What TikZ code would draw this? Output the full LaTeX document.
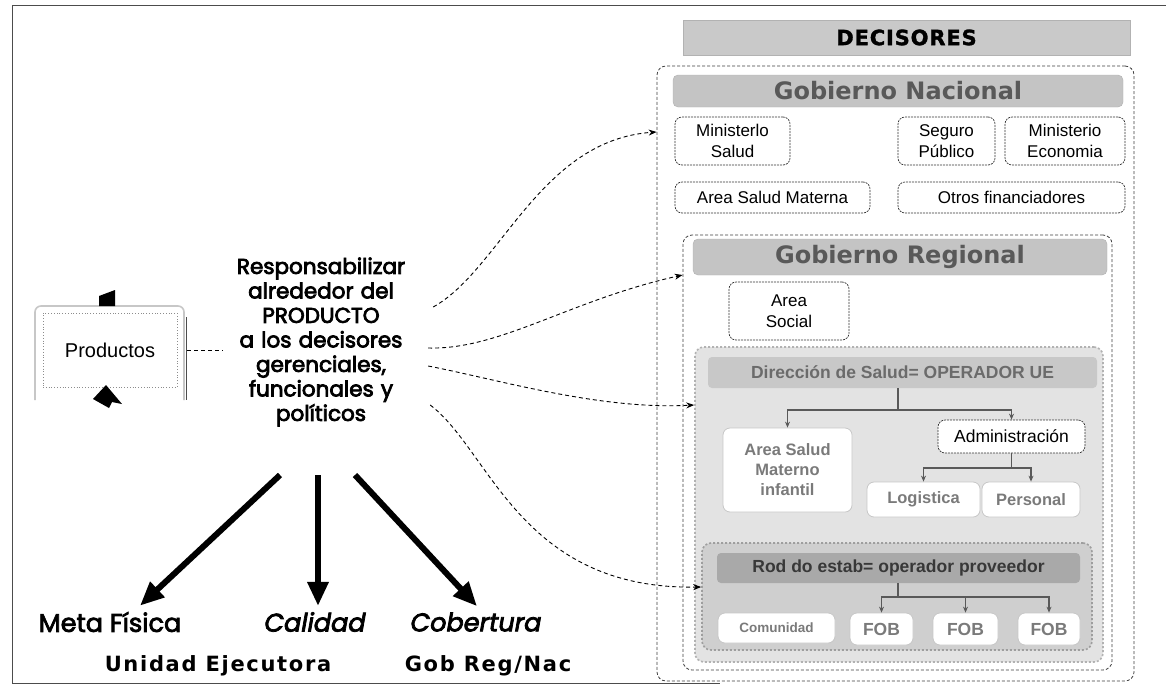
\documentclass[tikz,border=0pt]{standalone}
\usepackage{fontspec}
\setmainfont{Liberation Sans}
\newfontfamily\comic{Poppins}[FakeBold=3.5]
\newfontfamily\comicit{Poppins Italic}[FakeBold=3]
\newfontfamily\comiclb{Poppins}[FakeBold=3]
\newfontfamily\verd{DejaVu Sans}
\newfontfamily\verdsp{DejaVu Sans}[LetterSpace=8]
\newfontfamily\decfont{DejaVu Sans Bold}[LetterSpace=4, FakeBold=1.5]
\usetikzlibrary{arrows.meta,calc}
\definecolor{decg}{HTML}{C9C9C9}
\definecolor{gobg}{HTML}{C4C4C4}
\definecolor{dirfill}{HTML}{E3E3E3}
\definecolor{dirbar}{HTML}{C8C8C8}
\definecolor{redfill}{HTML}{CFCFCF}
\definecolor{redbar}{HTML}{A9A9A9}
\tikzset{
  cont/.style={draw=black!75, dash pattern=on 3pt off 2pt, line width=0.8pt, rounded corners=9pt, inner sep=0pt},
  gcont/.style={draw=black!30, dash pattern=on 2pt off 2pt, line width=1.6pt, rounded corners=9pt, inner sep=0pt},
  gobbar/.style={fill=gobg, draw=gobg!90!black, rounded corners=5pt, inner sep=0pt,
    font=\verd\bfseries\fontsize{24}{28}\selectfont, text=black!65},
  subbar/.style={rounded corners=4pt, inner sep=0pt, font=\bfseries\fontsize{17.5}{21}\selectfont},
  wbox/.style={draw=black!80, fill=white, dash pattern=on 2pt off 1pt, line width=0.7pt, rounded corners=7pt,
    align=center, inner sep=0pt, font=\fontsize{17}{21}\selectfont},
  gbox/.style={draw=black!22, fill=white, line width=0.8pt, rounded corners=7pt, align=center, inner sep=0pt,
    font=\bfseries\fontsize{16.5}{20}\selectfont, text=black!52},
  tree/.style={draw=black!65, line width=1.2pt, -{Stealth[length=6pt,width=5pt]}},
  treeline/.style={draw=black!65, line width=1.2pt},
  conn/.style={dash pattern=on 4pt off 3pt, line width=0.9pt, -{Stealth[length=8pt,width=6pt]}},
  bigarrow/.style={line width=6pt, -{Triangle[length=24pt,width=20pt]}},
  comiclab/.style={inner sep=0pt, font=\comiclb\fontsize{25.5}{30}\selectfont},
  comicitlab/.style={inner sep=0pt, font=\comicit\fontsize{25.5}{30}\selectfont},
  verdlab/.style={inner sep=0pt, font=\verdsp\bfseries\fontsize{21}{25}\selectfont}
}
\begin{document}
\begin{tikzpicture}[x=1pt,y=-1pt]
\useasboundingbox (0,0) rectangle (1166,699);
\fill[white] (0,0) rectangle (1166,699);
% frame
\draw[black!70, line width=0.8pt] (1166,5) -- (12,5) -- (12,683) -- (720,683);

% ---------- right side ----------
\node[fill=decg, draw=black!30, minimum width=447, minimum height=35, inner sep=0pt,
  font=\decfont\fontsize{21}{24}\selectfont] (dec) at (906.5,37.5) {DECISORES};

\node[cont, minimum width=477, minimum height=615] (nac) at (895.5,373.5) {};
\node[gobbar, minimum width=450, minimum height=32] (gn) at (898,91) {Gobierno Nacional};
\node[wbox, minimum width=115, minimum height=48] (ms) at (732.5,141) {Ministerlo\\Salud};
\node[wbox, minimum width=97, minimum height=48] (sp) at (946.5,141) {Seguro\\Público};
\node[wbox, minimum width=120, minimum height=48] (me) at (1065,141) {Ministerio\\Economia};
\node[wbox, minimum width=195, minimum height=31] (asm) at (772.5,197.5) {Area Salud Materna};
\node[wbox, minimum width=227, minimum height=31] (of) at (1011.5,197.5) {Otros financiadores};

\node[cont, minimum width=429, minimum height=435] (reg) at (897.5,452.5) {};
\node[gobbar, minimum width=414, minimum height=36] (gr) at (900,257) {Gobierno Regional};
\node[wbox, minimum width=120, minimum height=58] (as) at (789,311) {Area\\Social};

\node[gcont, fill=dirfill, minimum width=408, minimum height=315] (dir) at (899,504.5) {};
\node[subbar, fill=dirbar, text=black!58, minimum width=389, minimum height=31] (ds) at (902.5,372.5) {Dirección de Salud= OPERADOR UE};
\node[gbox, minimum width=129, minimum height=84] (asmi) at (787.5,470) {Area Salud\\Materno\\infantil};
\node[wbox, font=\fontsize{17.5}{21}\selectfont, minimum width=147, minimum height=33] (adm) at (1011.5,436.5) {Administración};
\node[gbox, font=\bfseries\fontsize{16.5}{20}\selectfont, minimum width=113, minimum height=35] (log) at (923.5,499.5) {Logistica};
\node[gbox, minimum width=98, minimum height=35] (per) at (1031,499.5) {Personal};

\node[gcont, draw=black!38, fill=redfill, minimum width=390, minimum height=107] (red) at (897,596.5) {};
\node[subbar, fill=redbar, text=black!78, minimum width=363, minimum height=30] (rb) at (898.5,568) {Rod do estab= operador proveedor};
\node[gbox, font=\bfseries\fontsize{13.5}{16}\selectfont, minimum width=117, minimum height=30] (com) at (776.5,628) {Comunidad};
\node[gbox, font=\bfseries\fontsize{17.5}{20}\selectfont, minimum width=63, minimum height=32] (fob1) at (881.5,629) {FOB};
\node[gbox, font=\bfseries\fontsize{17.5}{20}\selectfont, minimum width=65, minimum height=32] (fob2) at (965.5,629) {FOB};
\node[gbox, font=\bfseries\fontsize{17.5}{20}\selectfont, minimum width=62, minimum height=32] (fob3) at (1049,629) {FOB};

% tree connectors
\coordinate (j1) at (898,410);
\draw[treeline] (ds.south -| j1) -- (j1);
\draw[tree] (j1) -| (asmi.north);
\draw[tree] (j1) -| (adm.north);
\coordinate (j2) at (1011.5,468);
\draw[treeline] (adm.south) -- (j2);
\draw[tree] (j2) -| (log.north);
\draw[tree] (j2) -| (per.north);
\coordinate (j3) at (898,597);
\draw[treeline] (rb.south -| j3) -- (j3);
\draw[tree] (j3) -| (fob1.north);
\draw[tree] (j3) -| (fob2.north);
\draw[tree] (j3) -| (fob3.north);

% ---------- left side ----------
\draw[black!22, line width=1.6pt, rounded corners=6pt] (35,400) -- (35,306) -- (184,306) -- (184,400);
\draw[black!70, line width=0.8pt] (186,317) -- (186,400);
\node[draw=black!45, dotted, line width=0.8pt, minimum width=134, minimum height=74, inner sep=0pt,
  font=\fontsize{20}{24}\selectfont] (prod) at (110,350) {Productos};
\fill[black] (99,296) -- (115,290) -- (115,306) -- (99,306) -- cycle;
\fill[black] (106,385) -- (93,399) -- (109,408) -- (112,402) -- (122,404) -- cycle;

\node[inner sep=0pt, text width=200pt, align=center, font=\comic\fontsize{21.5}{24.5}\selectfont]
  (resp) at (321,342) {Responsabilizar\\alrededor del\\PRODUCTO\\a los decisores\\gerenciales,\\funcionales y\\políticos};

\draw[dash pattern=on 4pt off 3pt, line width=1pt] ([xshift=10pt]prod.east) -- ([xshift=2pt]resp.west |- prod.east);

% dashed curved connectors
\draw[conn] ([shift={(12,-35)}]resp.east) .. controls (500,270) and (540,140) .. (nac.west |- 0,132);
\draw[conn] ([shift={(7,6)}]resp.east) .. controls (500,350) and (570,300) .. (reg.west |- 0,275);
\draw[conn] ([shift={(7,24)}]resp.east) .. controls (500,380) and (600,410) .. (dir.west |- 0,405);
\draw[conn] ([shift={(9,63)}]resp.east) .. controls (490,450) and (520,590) .. (red.west |- 0,587);

% bottom labels
\node[comiclab] (mf) at (110,622) {Meta Física};
\node[comicitlab] (cal) at (315,622) {Calidad};
\node[comicitlab] (cob) at (476,622) {Cobertura};
\node[verdlab] (ue) at (218,666) {Unidad Ejecutora};
\node[verdlab] (grn) at (488,666) {Gob Reg/Nac};

\coordinate (s1) at (280,475);
\coordinate (s2) at (318,475);
\coordinate (s3) at (355,475);
\draw[bigarrow] (s1) -- ($(mf.north)+(30,-6)$);
\draw[bigarrow] (s2) -- ($(s2 |- cal.north)+(0,-6)$);
\draw[bigarrow] (s3) -- ($(cob.north)+(1,-6)$);
\end{tikzpicture}
\end{document}
